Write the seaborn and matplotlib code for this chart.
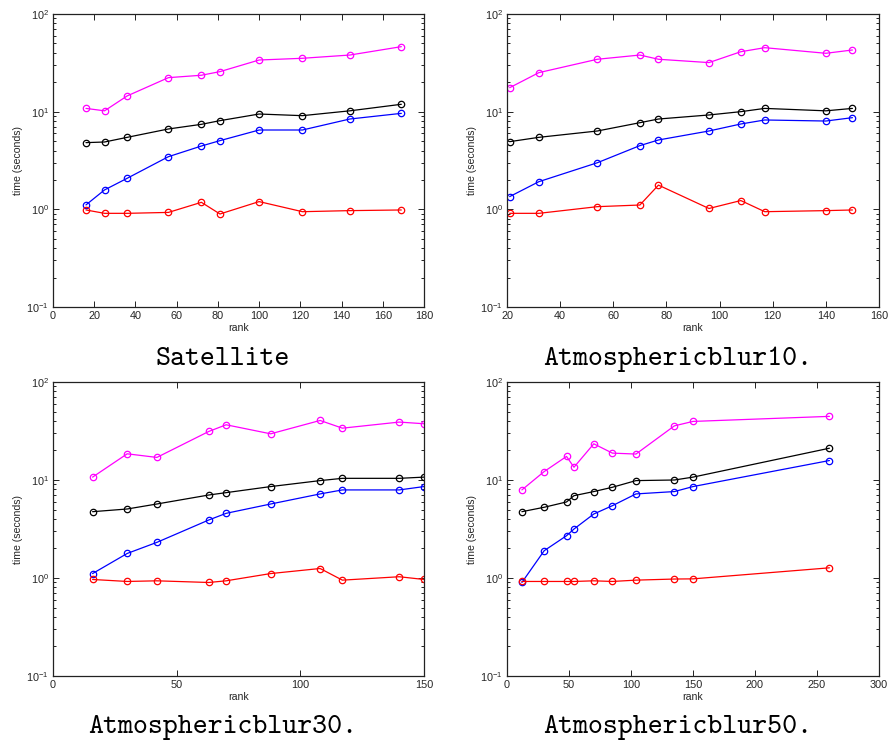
import matplotlib
matplotlib.use("Agg")
import matplotlib.pyplot as plt
import matplotlib.ticker as mticker
import numpy as np
import pandas as pd
import seaborn as sns

# ---- timing data (seconds) for four test problems ----
sat_rank = [16, 25, 36, 56, 72, 81, 100, 121, 144, 169]
sat_magenta = [10.8, 10.2, 14.5, 22.3, 23.6, 25.7, 33.8, 35.2, 38.0, 46.3]
sat_black = [4.82, 4.89, 5.46, 6.65, 7.42, 8.09, 9.46, 9.1, 10.2, 11.9]
sat_blue = [1.11, 1.58, 2.08, 3.46, 4.45, 5.05, 6.49, 6.49, 8.41, 9.61]
sat_red = [0.985, 0.91, 0.91, 0.93, 1.18, 0.896, 1.20, 0.946, 0.97, 0.985]

ab10_rank = [21, 32, 54, 70, 77, 96, 108, 117, 140, 150]
ab10_magenta = [17.6, 25.1, 34.4, 38.0, 34.4, 31.8, 41.1, 45.2, 39.6, 42.8]
ab10_black = [4.93, 5.46, 6.34, 7.71, 8.41, 9.25, 10.0, 10.8, 10.2, 10.8]
ab10_blue = [1.35, 1.92, 3.0, 4.49, 5.13, 6.34, 7.48, 8.22, 8.02, 8.68]
ab10_red = [0.91, 0.91, 1.065, 1.107, 1.77, 1.02, 1.23, 0.946, 0.97, 0.985]

ab30_rank = [16, 30, 42, 63, 70, 88, 108, 117, 140, 150]
ab30_magenta = [10.7, 18.5, 17.0, 31.3, 36.6, 29.6, 40.5, 33.8, 39.0, 37.5]
ab30_black = [4.75, 5.06, 5.69, 7.03, 7.43, 8.57, 9.86, 10.4, 10.4, 10.7]
ab30_blue = [1.11, 1.78, 2.31, 3.91, 4.57, 5.69, 7.21, 7.92, 7.92, 8.57]
ab30_red = [0.966, 0.922, 0.936, 0.90, 0.936, 1.11, 1.25, 0.951, 1.03, 0.966]

ab50_rank = [12, 30, 48, 54, 70, 85, 104, 135, 150, 260]
ab50_magenta = [7.92, 12.2, 17.4, 13.5, 23.4, 18.8, 18.4, 35.7, 39.6, 44.6]
ab50_black = [4.75, 5.27, 5.97, 6.92, 7.62, 8.43, 9.86, 10.0, 10.7, 21.1]
ab50_blue = [0.90, 1.90, 2.70, 3.16, 4.50, 5.47, 7.21, 7.62, 8.57, 15.8]
ab50_red = [0.922, 0.922, 0.922, 0.922, 0.936, 0.922, 0.951, 0.976, 0.98, 1.27]

captions = ["Satellite", "Atmosphericblur10.", "Atmosphericblur30.", "Atmosphericblur50."]
x_limits = [(0, 180), (20, 160), (0, 150), (0, 300)]
x_steps = [20, 20, 50, 50]

series_colors = {"magenta": "#ff00ff", "black": "#000000",
                 "blue": "#0000ff", "red": "#ff0000"}

panels = [
    (sat_rank, sat_magenta, sat_black, sat_blue, sat_red),
    (ab10_rank, ab10_magenta, ab10_black, ab10_blue, ab10_red),
    (ab30_rank, ab30_magenta, ab30_black, ab30_blue, ab30_red),
    (ab50_rank, ab50_magenta, ab50_black, ab50_blue, ab50_red),
]

sns.set_style("ticks")
plt.rcParams["font.family"] = ["Liberation Sans", "DejaVu Sans"]
plt.rcParams["mathtext.fontset"] = "custom"
plt.rcParams["mathtext.rm"] = "Liberation Sans"
plt.rcParams["mathtext.it"] = "Liberation Sans"

W, H = 890, 745
fig = plt.figure(figsize=(W / 100, H / 100), dpi=100)

# axes boxes in pixels: left, top, right, bottom
boxes = [
    (53, 14, 424, 307),
    (507, 14, 879, 307),
    (53, 382, 424, 676),
    (507, 382, 879, 676),
]
caption_pos = [(222.5, 365), (677.5, 365), (222.5, 733), (677.5, 733)]

tick_color = "#262626"

for i, (rank, mag, blk, blu, red) in enumerate(panels):
    l, t, r, b = boxes[i]
    ax = fig.add_axes([l / W, 1 - b / H, (r - l) / W, (b - t) / H])

    frames = []
    for name, vals in zip(["magenta", "black", "blue", "red"], [mag, blk, blu, red]):
        frames.append(pd.DataFrame({"rank": rank, "time": vals, "method": name}))
    df = pd.concat(frames, ignore_index=True)

    for name in ["magenta", "black", "blue", "red"]:
        sub = df[df["method"] == name]
        c = series_colors[name]
        sns.lineplot(data=sub, x="rank", y="time", ax=ax, color=c,
                     estimator=None, sort=False, linewidth=0.9,
                     marker="o", markersize=4.6, markerfacecolor="none",
                     markeredgecolor=c, markeredgewidth=0.9)

    ax.set_yscale("log")
    ax.set_ylim(0.1, 100)
    ax.set_xlim(*x_limits[i])
    ax.xaxis.set_major_locator(mticker.MultipleLocator(x_steps[i]))
    ax.yaxis.set_major_locator(mticker.LogLocator(base=10, numticks=10))
    ax.yaxis.set_minor_locator(mticker.LogLocator(base=10, subs=np.arange(2, 10), numticks=10))
    ax.yaxis.set_minor_formatter(mticker.NullFormatter())

    for sp in ax.spines.values():
        sp.set_visible(True)
        sp.set_linewidth(0.9)
        sp.set_color("#222222")

    ax.tick_params(which="both", direction="in", top=True, right=True,
                   labelsize=7.8, labelcolor=tick_color, color="#222222", width=0.7)
    ax.tick_params(which="major", length=4, pad=3)
    ax.tick_params(which="minor", length=2.3)

    ax.set_xlabel("rank", fontsize=7.6, color=tick_color, labelpad=1.5)
    ax.set_ylabel("time (seconds)", fontsize=7.6, color=tick_color, labelpad=2.5)

    cx, cy = caption_pos[i]
    fig.text(cx / W, 1 - cy / H, captions[i], ha="center", va="baseline",
             fontsize=20.5, family="cmtt10", color="black")

fig.savefig("out.png", dpi=100)
